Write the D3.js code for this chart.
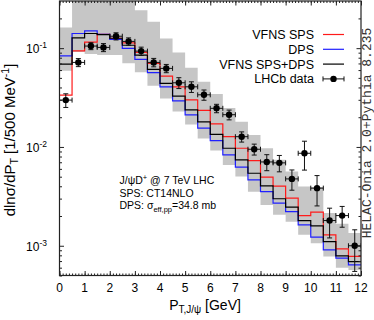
<!DOCTYPE html>
<html>
<head>
<meta charset="utf-8">
<script src="https://cdn.jsdelivr.net/npm/d3@7"></script>
<style>
  body { margin: 0; background: #fff; }
  svg { display: block; font-family: "Liberation Sans", Arial, sans-serif; }
</style>
</head>
<body>
<svg id="chart" width="374" height="320"></svg>
<script>
// bin edges in GeV
const ptEdges = [0, 0.5, 1, 1.5, 2, 2.5, 3, 3.5, 4, 4.5, 5, 5.5, 6, 6.5, 7, 7.5, 8, 8.5, 9, 9.5, 10, 10.5, 11, 11.5, 12];

// VFNS SPS (red)
const sps = [0.0335, 0.0939, 0.115, 0.138, 0.126, 0.113, 0.0905, 0.070, 0.0521, 0.0406, 0.0299, 0.0234,
  0.0171, 0.0127, 0.0097, 0.00728, 0.00494, 0.00401, 0.00303, 0.00202, 0.00219, 0.00129, 0.00093, 0.00078];
// DPS (blue)
const dps = [0.0836, 0.1406, 0.1496, 0.138, 0.1225, 0.0993, 0.0769, 0.0564, 0.0406, 0.0292, 0.0211, 0.0155,
  0.0116, 0.0083, 0.00624, 0.00464, 0.00353, 0.0027, 0.00222, 0.00163, 0.00122, 0.00091, 0.00075, 0.00064];
// VFNS SPS+DPS (black)
const total = [0.0689, 0.127, 0.1406, 0.1368, 0.126, 0.107, 0.085, 0.061, 0.044, 0.0327, 0.0237, 0.0179,
  0.0134, 0.0097, 0.0074, 0.00542, 0.00404, 0.00299, 0.00246, 0.0018, 0.00159, 0.0011, 0.00079, 0.00069];
// uncertainty band (grey)
const bandHi = [0.162, 0.45, 0.5, 0.5, 0.45, 0.38, 0.242, 0.1845, 0.125, 0.0905, 0.0633, 0.0457,
  0.0343, 0.0248, 0.018, 0.0132, 0.0097, 0.0074, 0.00563, 0.00397, 0.00394, 0.00215, 0.00167, 0.00135];
const bandLo = [0.059, 0.0912, 0.087, 0.085, 0.085, 0.0705, 0.0569, 0.0416, 0.031, 0.0228, 0.0169, 0.0122,
  0.00918, 0.00658, 0.00501, 0.00353, 0.00259, 0.00206, 0.00175, 0.00129, 0.00106, 0.00078, 0.0006, 0.00057];

// LHCb data
const lhcb = [0.0298, 0.0717, 0.105, 0.1017, 0.132, 0.117, 0.0933, 0.0717, 0.0624, 0.0446, 0.0406, 0.0337,
  0.0246, 0.0212, 0.0127, 0.00948, 0.00705, 0.0069, 0.00475, 0.00863, 0.00383, 0.0018, 0.00202, 0.001];
const lhcbErr = [0.0047, 0.0067, 0.0085, 0.0095, 0.011, 0.01, 0.009, 0.007, 0.006, 0.0056, 0.005, 0.004,
  0.0024, 0.0024, 0.0015, 0.0012, 0.0013, 0.0013, 0.0011, 0.0028, 0.0013, 0.0006, 0.00048, 0.00045];

const xTicks = [0, 1, 2, 3, 4, 5, 6, 7, 8, 9, 10, 11, 12];
const yTicks = [0.1, 0.01, 0.001];
const yTickExp = ["-1", "-2", "-3"];

const svg = d3.select("#chart");
const pLeft = 59.5, pRight = 361, pTop = 1, pBottom = 275.5;

const x = d3.scaleLinear().domain([0, 12]).range([pLeft, pRight]);
const y = d3.scaleLog().domain([5e-4, 0.3]).range([pBottom, pTop]);

svg.append("defs").append("clipPath").attr("id", "clip")
  .append("rect").attr("x", pLeft).attr("y", pTop).attr("width", pRight - pLeft).attr("height", pBottom - pTop);

const plot = svg.append("g").attr("clip-path", "url(#clip)");

const stepPts = vals => vals.flatMap((v, i) => [[ptEdges[i], v], [ptEdges[i + 1], v]]);

// grey band
const bandPts = bandLo.flatMap((v, i) => [[ptEdges[i], v, bandHi[i]], [ptEdges[i + 1], v, bandHi[i]]]);
plot.append("path")
  .attr("d", d3.area().x(d => x(d[0])).y0(d => y(d[1])).y1(d => y(d[2]))(bandPts))
  .attr("fill", "#c6c6c6");

const line = d3.line().x(d => x(d[0])).y(d => y(d[1]));
const series = [
  { vals: sps, color: "#ff1a1a" },
  { vals: dps, color: "#1f1fff" },
  { vals: total, color: "#000" }
];
series.forEach(s => {
  plot.append("path")
    .attr("d", line(stepPts(s.vals)))
    .attr("fill", "none")
    .attr("stroke", s.color)
    .attr("stroke-width", 1.2);
});

// data points with error bars
const pts = lhcb.map((v, i) => ({ lo: ptEdges[i], hi: ptEdges[i + 1], v, e: lhcbErr[i] }));
const eb = plot.append("g").attr("stroke", "#111").attr("stroke-width", 1);
pts.forEach(d => {
  const cx = x((d.lo + d.hi) / 2), cy = y(d.v);
  const yt = y(d.v + d.e), yb = y(Math.max(d.v - d.e, 1e-5));
  eb.append("line").attr("x1", cx).attr("x2", cx).attr("y1", yt).attr("y2", yb);
  eb.append("line").attr("x1", cx - 2.5).attr("x2", cx + 2.5).attr("y1", yt).attr("y2", yt);
  eb.append("line").attr("x1", cx - 2.5).attr("x2", cx + 2.5).attr("y1", yb).attr("y2", yb);
  eb.append("line").attr("x1", x(d.lo)).attr("x2", x(d.hi)).attr("y1", cy).attr("y2", cy);
  eb.append("line").attr("x1", x(d.lo)).attr("x2", x(d.lo)).attr("y1", cy - 2.5).attr("y2", cy + 2.5);
  eb.append("line").attr("x1", x(d.hi)).attr("x2", x(d.hi)).attr("y1", cy - 2.5).attr("y2", cy + 2.5);
});
plot.append("g").selectAll("circle")
  .data(pts)
  .enter()
  .append("circle")
  .attr("cx", d => x((d.lo + d.hi) / 2))
  .attr("cy", d => y(d.v))
  .attr("r", 3.2)
  .attr("fill", "#000");

// axes (ticks pointing inward on all four sides)
const minorX = d3.range(0, 12.001, 0.125);
const minorY = [];
[1e-4, 1e-3, 1e-2, 1e-1].forEach(p => [2, 3, 4, 5, 6, 7, 8, 9].forEach(k => {
  const v = k * p;
  if (v >= 5e-4 && v <= 0.3) minorY.push(v);
}));

function addAxis(axisFn, scale, vals, size, transform) {
  const g = svg.append("g").attr("transform", transform)
    .call(axisFn(scale).tickValues(vals).tickSize(size).tickSizeOuter(0).tickFormat(""));
  g.select(".domain").remove();
  g.selectAll("line").attr("stroke", "#222");
  return g;
}
addAxis(d3.axisBottom, x, minorX, -2, `translate(0,${pBottom})`);
addAxis(d3.axisBottom, x, xTicks, -4.5, `translate(0,${pBottom})`);
addAxis(d3.axisTop, x, minorX, -2, `translate(0,${pTop})`);
addAxis(d3.axisTop, x, xTicks, -4.5, `translate(0,${pTop})`);
addAxis(d3.axisLeft, y, minorY, -2.5, `translate(${pLeft},0)`);
addAxis(d3.axisLeft, y, yTicks, -4.5, `translate(${pLeft},0)`);
addAxis(d3.axisRight, y, minorY, -2.5, `translate(${pRight},0)`);
addAxis(d3.axisRight, y, yTicks, -4.5, `translate(${pRight},0)`);

svg.append("rect")
  .attr("x", pLeft).attr("y", pTop).attr("width", pRight - pLeft).attr("height", pBottom - pTop)
  .attr("fill", "none").attr("stroke", "#222").attr("stroke-width", 1.2);

// tick labels
svg.append("g").selectAll("text")
  .data(xTicks)
  .enter()
  .append("text")
  .attr("x", d => x(d))
  .attr("y", 292)
  .attr("text-anchor", "middle")
  .attr("font-size", 12)
  .text(d => d);

yTicks.forEach((v, i) => {
  const t = svg.append("text")
    .attr("x", 47)
    .attr("y", y(v) + 5)
    .attr("text-anchor", "end")
    .attr("font-size", 12);
  t.append("tspan").text("10");
  t.append("tspan").attr("dy", -5).attr("font-size", 8.5).text(yTickExp[i]);
});

// axis titles
const xt = svg.append("text")
  .attr("x", 205)
  .attr("y", 310)
  .attr("text-anchor", "middle")
  .attr("font-size", 14);
xt.append("tspan").text("P");
xt.append("tspan").attr("dy", 3).attr("font-size", 10).text("T,J/ψ");
xt.append("tspan").attr("dy", -3).text(" [GeV]");

const ytl = svg.append("text")
  .attr("transform", "translate(14.5,140) rotate(-90)")
  .attr("text-anchor", "middle")
  .attr("font-size", 15);
ytl.append("tspan").text("dlnσ/dP");
ytl.append("tspan").attr("dy", 3).attr("font-size", 10.5).text("T");
ytl.append("tspan").attr("dy", -3).text(" [1/500 MeV");
ytl.append("tspan").attr("dy", -6).attr("font-size", 10.5).text("-1");
ytl.append("tspan").attr("dy", 6).text("]");

// legend
const legendItems = [
  { label: "VFNS SPS", color: "#ff1a1a" },
  { label: "DPS", color: "#1f1fff" },
  { label: "VFNS SPS+DPS", color: "#000" },
  { label: "LHCb data", color: null }
];
const legend = svg.append("g");
legendItems.forEach((d, i) => {
  const cy = 34.5 + i * 14.8;
  legend.append("text")
    .attr("x", 314)
    .attr("y", cy + 4.4)
    .attr("text-anchor", "end")
    .attr("font-size", 12.5)
    .text(d.label);
  if (d.color) {
    legend.append("line")
      .attr("x1", 323).attr("x2", 344).attr("y1", cy).attr("y2", cy)
      .attr("stroke", d.color).attr("stroke-width", 1.2);
  } else {
    const lg = legend.append("g").attr("stroke", "#111");
    lg.append("line").attr("x1", 323).attr("x2", 344).attr("y1", cy).attr("y2", cy);
    lg.append("line").attr("x1", 323).attr("x2", 323).attr("y1", cy - 2.5).attr("y2", cy + 2.5);
    lg.append("line").attr("x1", 344).attr("x2", 344).attr("y1", cy - 2.5).attr("y2", cy + 2.5);
    legend.append("circle").attr("cx", 333.5).attr("cy", cy).attr("r", 3.2).attr("fill", "#000");
  }
});

// annotation
const note = svg.append("g").attr("font-size", 10.5);
const n1 = note.append("text").attr("x", 119.5).attr("y", 184);
n1.append("tspan").text("J/ψD");
n1.append("tspan").attr("dy", -4).attr("font-size", 7.5).text("+");
n1.append("tspan").attr("dy", 4).text(" @ 7 TeV LHC");
note.append("text").attr("x", 119.5).attr("y", 196.5).text("SPS: CT14NLO");
const n3 = note.append("text").attr("x", 119.5).attr("y", 209);
n3.append("tspan").text("DPS: σ");
n3.append("tspan").attr("dy", 2.5).attr("font-size", 7.5).text("eff,pp");
n3.append("tspan").attr("dy", -2.5).text("=34.8 mb");

// generator tag on the right
svg.append("text")
  .attr("transform", "translate(371,133) rotate(-90)")
  .attr("text-anchor", "middle")
  .attr("font-family", "'Liberation Mono', 'Courier New', monospace")
  .attr("font-size", 13)
  .attr("fill", "#333")
  .text("HELAC-Onia 2.0+Pythia 8.235");
</script>
</body>
</html>
